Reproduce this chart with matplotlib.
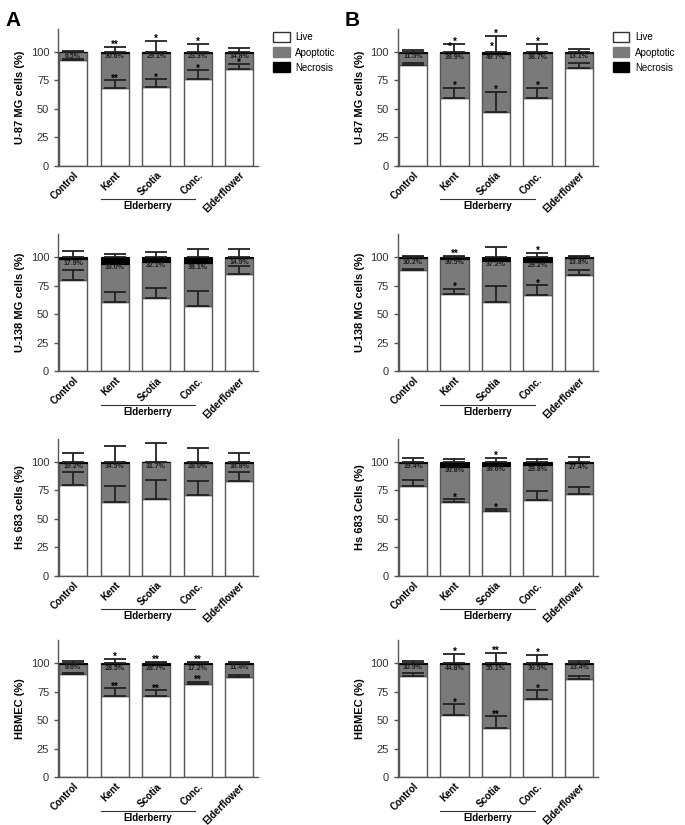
import matplotlib
matplotlib.use("Agg")
import matplotlib.pyplot as plt
from matplotlib.patches import Patch

plt.rcParams['font.family'] = ['Liberation Sans', 'DejaVu Sans']

# bar categories
groups = ['Control', 'Kent', 'Scotia', 'Conc.', 'Elderflower']

# panel order: A1..A4 (left column), B1..B4 (right column)
ylabels = ['U-87 MG cells (%)', 'U-138 MG cells (%)', 'Hs 683 cells (%)', 'HBMEC (%)',
           'U-87 MG cells (%)', 'U-138 MG cells (%)', 'Hs 683 Cells (%)', 'HBMEC (%)']

live = [[92.5, 68, 69.5, 76, 85],
        [80, 61, 64.5, 57.5, 85],
        [80, 64.5, 67.5, 71, 83.5],
        [90.8, 71.3, 71.3, 81.3, 87.8],
        [88, 59, 47.3, 59, 86],
        [88.5, 68, 60.3, 67.2, 84.5],
        [79, 64.3, 56.7, 66.4, 72],
        [88.5, 54.2, 43, 68.2, 86.4]]

apoptotic = [[6.8, 31, 29.7, 23.2, 14.2],
             [18, 33, 31.5, 37, 14],
             [19.2, 34.7, 31.9, 28, 15.7],
             [8.6, 27.7, 27.2, 17.7, 11.4],
             [11.2, 39.8, 50.7, 39.5, 13],
             [10.7, 30.5, 36.7, 28.8, 14.7],
             [20, 31.3, 39.8, 30.6, 26.5],
             [10.8, 44.8, 55.8, 30.8, 13]]

necrosis = [[0.7, 1, 0.8, 0.8, 0.8],
            [2, 6, 4, 5.5, 1],
            [0.8, 0.8, 0.6, 1, 0.8],
            [0.6, 1, 1.5, 1, 0.8],
            [0.8, 1.2, 2, 1.5, 1],
            [0.8, 1.5, 3, 4, 0.8],
            [1, 4.4, 3.5, 3, 1.5],
            [0.7, 1, 1.2, 1, 0.6]]

# upper error (SD) on live fraction and on total
err_live = [[0.8, 7, 6.5, 8, 4],
            [8.4, 8.6, 8.3, 12.9, 7],
            [10.7, 14.5, 16.5, 12, 7.2],
            [0.8, 6.4, 4.9, 2.2, 2],
            [2.4, 9.5, 17.7, 9.5, 4],
            [1.4, 4.5, 14.5, 8.2, 3.9],
            [5, 3, 1.8, 8.2, 5.5],
            [3.1, 9.8, 10.6, 8, 2]]

err_top = [[0.8, 4.4, 9, 7, 3],
           [5.8, 3, 4.6, 6.7, 6.7],
           [7.6, 14, 16, 12, 7.6],
           [1.7, 3.8, 0.9, 0.9, 0.9],
           [1.5, 7, 14, 7, 2],
           [0.6, 1.4, 9, 3.8, 1.4],
           [3.5, 2, 3.5, 2.3, 4.4],
           [1.4, 8, 8.7, 7.2, 1.4]]

pct_labels = [["6.5%", "30.6%", "29.1%", "23.3%", "14.8%"],
              ["17.9%", "33.0%", "32.1%", "38.1%", "14.9%"],
              ["19.2%", "34.5%", "31.7%", "28.0%", "16.8%"],
              ["8.6%", "28.5%", "28.7%", "17.2%", "11.4%"],
              ["11.5%", "39.9%", "49.7%", "38.7%", "13.1%"],
              ["10.2%", "30.5%", "37.2%", "29.2%", "13.8%"],
              ["19.4%", "30.8%", "39.6%", "29.8%", "27.4%"],
              ["10.9%", "44.8%", "55.1%", "30.5%", "13.4%"]]

stars_live = [["", "**", "*", "*", "*"],
              ["", "", "", "", ""],
              ["", "", "", "", ""],
              ["", "**", "**", "**", ""],
              ["", "*", "*", "*", ""],
              ["", "*", "", "*", ""],
              ["", "*", "*", "", ""],
              ["", "*", "**", "*", ""]]

stars_top = [["", "**", "*", "*", ""],
             ["", "", "", "", ""],
             ["", "", "", "", ""],
             ["", "*", "**", "**", ""],
             ["", "*", "*", "*", ""],
             ["", "**", "", "*", ""],
             ["", "", "*", "", ""],
             ["", "*", "**", "*", ""]]

stars_nec = [["", "", "", "", ""]] * 4 + [["", "*", "*", "", ""]] + [["", "", "", "", ""]] * 3

GRAY = '#7a7a7a'
EDGE = '#555555'

fig = plt.figure(figsize=(6.85, 8.25), dpi=100)

bottoms = [0.799, 0.550, 0.302, 0.058]
lefts = [0.085, 0.581]

x = list(range(len(groups)))

for p in range(8):
    col, row = divmod(p, 4)
    ax = fig.add_axes([lefts[col], bottoms[row], 0.292, 0.166])
    lv, ap, nc = live[p], apoptotic[p], necrosis[p]
    top_ap = [a + b for a, b in zip(lv, ap)]
    ax.bar(x, lv, width=0.68, color='white', edgecolor=EDGE, linewidth=1)
    ax.bar(x, ap, width=0.68, bottom=lv, color=GRAY, edgecolor=EDGE, linewidth=1)
    ax.bar(x, nc, width=0.68, bottom=top_ap, color='black', edgecolor='black', linewidth=0.8)

    tot = [a + b for a, b in zip(top_ap, nc)]
    ax.errorbar(x, lv, yerr=[[0] * 5, err_live[p]], fmt='none', ecolor='#222222',
                elinewidth=1.3, capsize=8, capthick=1.3)
    ax.errorbar(x, tot, yerr=[[0] * 5, err_top[p]], fmt='none', ecolor='#222222',
                elinewidth=1.3, capsize=8, capthick=1.3)

    for i in x:
        ax.text(i, top_ap[i] - 3.5, pct_labels[p][i], ha='center', va='center',
                fontsize=5, fontweight='bold', color='#1a1a1a')
        if stars_live[p][i]:
            ax.text(i, lv[i] + err_live[p][i] - 3, stars_live[p][i], ha='center', va='bottom',
                    fontsize=7, fontweight='bold')
        if stars_top[p][i]:
            ax.text(i, tot[i] + err_top[p][i] - 2.5, stars_top[p][i], ha='center', va='bottom',
                    fontsize=7, fontweight='bold')
        if stars_nec[p][i]:
            ax.text(i - 0.1, 100, stars_nec[p][i], ha='center', va='bottom',
                    fontsize=7, fontweight='bold')

    ax.set_xlim(-0.36, 4.46)
    ax.set_ylim(0, 120)
    ax.set_yticks([0, 25, 50, 75, 100])
    ax.set_xticks(x)
    ax.set_xticklabels(groups, rotation=45, ha='right', rotation_mode='anchor',
                       fontsize=7, fontweight='bold')
    ax.tick_params(axis='x', length=0, pad=3)
    ax.tick_params(axis='y', labelsize=8, length=3, color=EDGE, width=1, labelcolor='#333333')
    for s in ['top', 'right']:
        ax.spines[s].set_visible(False)
    for s in ['left', 'bottom']:
        ax.spines[s].set_color(EDGE)
        ax.spines[s].set_linewidth(1)
    ax.set_ylabel(ylabels[p], fontsize=8, fontweight='bold')

    # Elderberry bracket under Kent / Scotia / Conc.
    ax.plot([0.66, 2.93], [-0.245, -0.245], color='#333333', lw=0.8,
            transform=ax.get_xaxis_transform(), clip_on=False)
    ax.text(1.8, -0.26, 'Elderberry', transform=ax.get_xaxis_transform(),
            ha='center', va='top', fontsize=7, fontweight='bold')

    if row == 0:
        handles = [Patch(facecolor='white', edgecolor='#333333', label='Live'),
                   Patch(facecolor=GRAY, edgecolor=GRAY, label='Apoptotic'),
                   Patch(facecolor='black', edgecolor='black', label='Necrosis')]
        ax.legend(handles=handles, loc='upper left', bbox_to_anchor=(1.03, 1.04),
                  frameon=False, fontsize=7, handlelength=1.7, handleheight=1.2,
                  labelspacing=0.5, handletextpad=0.6)

fig.text(0.008, 0.975, 'A', fontsize=15, fontweight='bold', va='center')
fig.text(0.503, 0.975, 'B', fontsize=15, fontweight='bold', va='center')

fig.savefig('out.png', dpi=100)
